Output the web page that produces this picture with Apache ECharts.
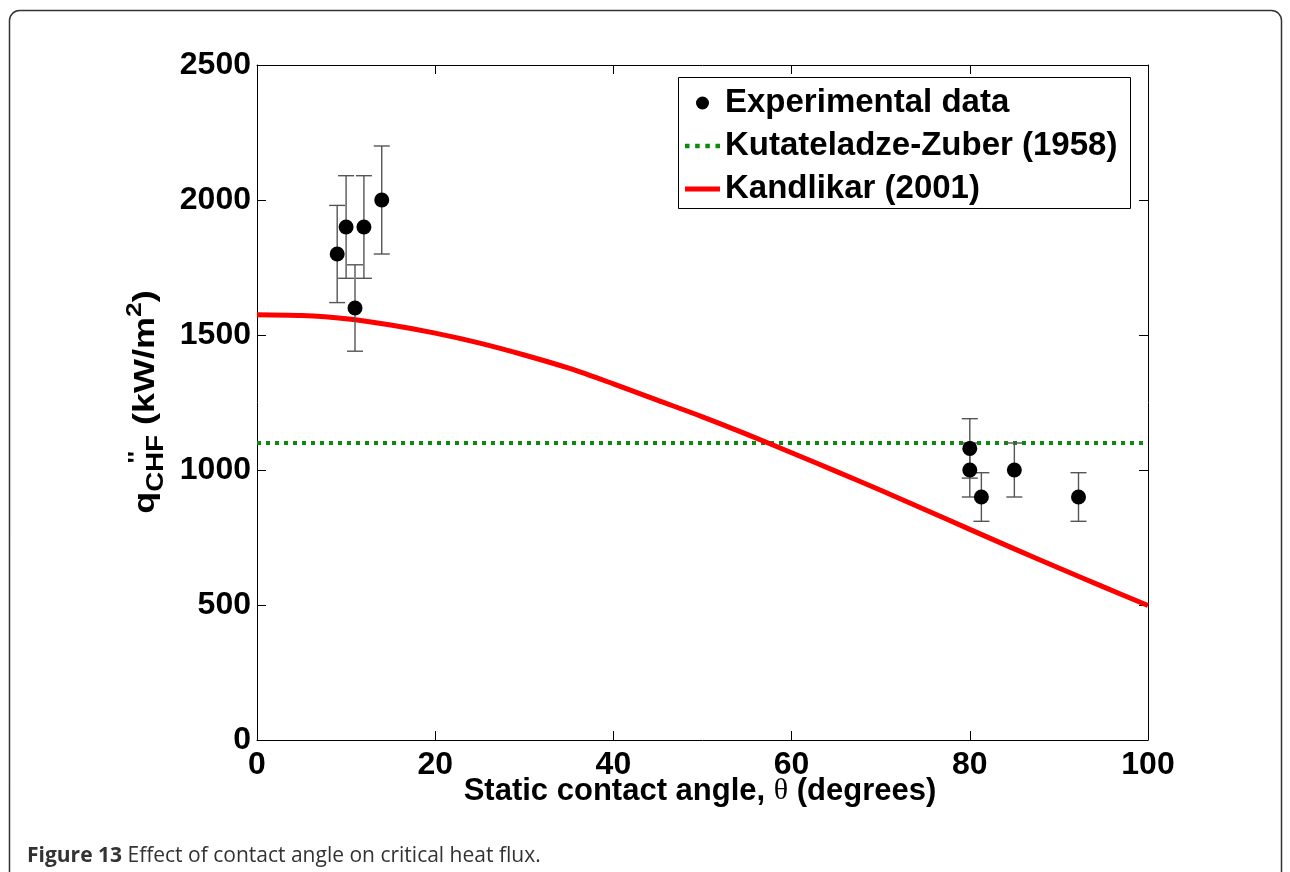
<!DOCTYPE html>
<html><head><meta charset="utf-8">
<script src="https://cdn.jsdelivr.net/npm/echarts@6/dist/echarts.min.js"></script>
<style>html,body{margin:0;padding:0;background:#fff;} #c{width:1290px;height:872px;}</style>
</head><body><div id="c"></div>
<script>
// ---- data ----
const expTheta = [9, 10, 11, 12, 14, 80, 80, 81.3, 85, 92.2];
const expQ     = [1800, 1900, 1600, 1900, 2000, 1080, 1000, 900, 1000, 900];
const expErr   = [180, 190, 160, 190, 200, 110, 100, 90, 100, 90];

const kzTheta = [0, 100];
const kzQ     = [1100, 1100];

const kanTheta = [0, 5, 10, 15, 20, 25, 30, 35, 40, 45, 50, 55, 60, 65, 70, 75, 80, 85, 90, 95, 100];
const kanQ     = [1575, 1572, 1560, 1537, 1507, 1470, 1426, 1377, 1319, 1258, 1197, 1132, 1064, 995, 925, 853, 780, 708, 637, 567, 498];

const xTicks = [0, 20, 40, 60, 80, 100];
const yTicks = [0, 500, 1000, 1500, 2000, 2500];

const seriesNames = ['Experimental data', 'Kutateladze-Zuber (1958)', 'Kandlikar (2001)'];

// ---- chart ----
const F = '"Liberation Sans", Arial, Helvetica, sans-serif';
const chart = echarts.init(document.getElementById('c'), null, {renderer: 'canvas'});

const axisCommon = {
  type: 'value',
  axisLine: {show: true, onZero: false, lineStyle: {color: '#000', width: 1}},
  axisTick: {show: true, inside: true, length: 9, lineStyle: {color: '#000', width: 1}},
  splitLine: {show: false}
};
const tickLabel = {fontSize: 32, fontWeight: 'bold', color: '#000', fontFamily: F, formatter: v => String(v)};

const GREEN = '#0b8a0b', RED = '#ff0000';

const option = {
  animation: false,
  backgroundColor: '#fff',
  grid: {left: 257, top: 65, width: 891, height: 675},
  xAxis: [
    Object.assign({}, axisCommon, {position: 'bottom', min: xTicks[0], max: xTicks[xTicks.length - 1], interval: 20,
      axisLabel: Object.assign({margin: 9}, tickLabel)}),
    Object.assign({}, axisCommon, {position: 'top', min: xTicks[0], max: xTicks[xTicks.length - 1], interval: 20,
      axisLabel: {show: false}})
  ],
  yAxis: [
    Object.assign({}, axisCommon, {position: 'left', min: yTicks[0], max: yTicks[yTicks.length - 1], interval: 500,
      axisLabel: Object.assign({margin: 6}, tickLabel)}),
    Object.assign({}, axisCommon, {position: 'right', min: yTicks[0], max: yTicks[yTicks.length - 1], interval: 500,
      axisLabel: {show: false}})
  ],
  legend: {
    orient: 'vertical',
    left: 685, top: 83,
    padding: 0,
    itemWidth: 35, itemHeight: 13, itemGap: 3, itemTextGap: 7,
    textStyle: {fontSize: 33, fontWeight: 'bold', fontFamily: F, color: '#000', lineHeight: 40},
    data: [
      {name: seriesNames[0], icon: 'circle', itemStyle: {color: '#000', opacity: 1}},
      {name: seriesNames[1], icon: 'path://M0,0h4v4h-4z M9,0h4v4h-4z M18,0h4v4h-4z M27,0h4v4h-4z', itemStyle: {color: GREEN}},
      {name: seriesNames[2], icon: 'path://M0,0H35V5H0Z', itemStyle: {color: RED}}
    ]
  },
  graphic: [
    {type: 'rect', shape: {x: 9.5, y: 10.5, width: 1272, height: 920, r: 10},
     style: {fill: 'none', stroke: '#333', lineWidth: 1.5}, silent: true},
    {type: 'rect', shape: {x: 678.5, y: 77.5, width: 452, height: 131},
     style: {fill: 'none', stroke: '#000', lineWidth: 1}, silent: true, z: 10},
    {type: 'text', x: 700, y: 791, silent: true,
     style: {text: '{a|Static contact angle, }{t|θ}{a| (degrees)}', align: 'center', verticalAlign: 'middle',
       rich: {a: {fontSize: 31, fontWeight: 'bold', fontFamily: F, fill: '#000'},
              t: {fontSize: 30, fontFamily: '"Liberation Serif", "DejaVu Serif", serif', fill: '#000'}}}},
    {type: 'group', x: 146, y: 402, rotation: Math.PI / 2, scaleX: 1.2, scaleY: 1, silent: true,
     children: [
       {type: 'text', x: 0, y: 0,
        style: {text: '{m|q}{s|CHF}{m| (kW/m}{p|2}{m|)}', align: 'center', verticalAlign: 'middle',
          rich: {m: {fontSize: 30, fontWeight: 'bold', fontFamily: F, fill: '#000', lineHeight: 44, verticalAlign: 'middle'},
                 s: {fontSize: 23, fontWeight: 'bold', fontFamily: F, fill: '#000', lineHeight: 44, verticalAlign: 'bottom'},
                 p: {fontSize: 22, fontWeight: 'bold', fontFamily: F, fill: '#000', lineHeight: 44, verticalAlign: 'top'}}}},
       {type: 'text', x: -46, y: -9,
        style: {text: "''", align: 'center', verticalAlign: 'middle', fontSize: 22, fontWeight: 'bold', fontFamily: F, fill: '#000'}}
     ]},
    {type: 'text', x: 27, y: 856, silent: true,
     style: {text: '{b|Figure 13}{n| Effect of contact angle on critical heat flux.}', align: 'left', verticalAlign: 'middle',
       rich: {b: {fontSize: 21, fontWeight: 'bold', fontFamily: '"Open Sans", sans-serif', fill: '#333'},
              n: {fontSize: 21, fontFamily: '"Open Sans", sans-serif', fill: '#333'}}}}
  ],
  series: [
    {
      name: seriesNames[1], type: 'line', xAxisIndex: 0, yAxisIndex: 0,
      data: kzTheta.map((t, i) => [t, kzQ[i]]),
      symbol: 'none', color: GREEN,
      lineStyle: {color: GREEN, width: 4, type: [4, 5], cap: 'butt'}, z: 2
    },
    {
      name: seriesNames[2], type: 'line', xAxisIndex: 0, yAxisIndex: 0,
      data: kanTheta.map((t, i) => [t, kanQ[i]]),
      symbol: 'none', smooth: 0.3, color: RED,
      lineStyle: {color: RED, width: 5}, z: 3
    },
    {
      name: 'errorbars', type: 'custom', xAxisIndex: 0, yAxisIndex: 0,
      data: expTheta.map((t, i) => [t, expQ[i] - expErr[i], expQ[i] + expErr[i]]),
      encode: {x: 0, y: [1, 2]},
      renderItem: function (params, api) {
        const x = api.value(0);
        const lo = api.coord([x, api.value(1)]);
        const hi = api.coord([x, api.value(2)]);
        const hw = 8;
        const st = {stroke: '#555', lineWidth: 1.4};
        return {type: 'group', children: [
          {type: 'line', shape: {x1: lo[0], y1: lo[1], x2: hi[0], y2: hi[1]}, style: st},
          {type: 'line', shape: {x1: lo[0] - hw, y1: lo[1], x2: lo[0] + hw, y2: lo[1]}, style: st},
          {type: 'line', shape: {x1: hi[0] - hw, y1: hi[1], x2: hi[0] + hw, y2: hi[1]}, style: st}
        ]};
      },
      z: 4
    },
    {
      name: seriesNames[0], type: 'scatter', xAxisIndex: 0, yAxisIndex: 0,
      data: expTheta.map((t, i) => [t, expQ[i]]),
      symbol: 'circle', symbolSize: 15, itemStyle: {color: '#000', opacity: 1}, z: 5
    }
  ]
};
chart.setOption(option);
</script>
</body></html>
